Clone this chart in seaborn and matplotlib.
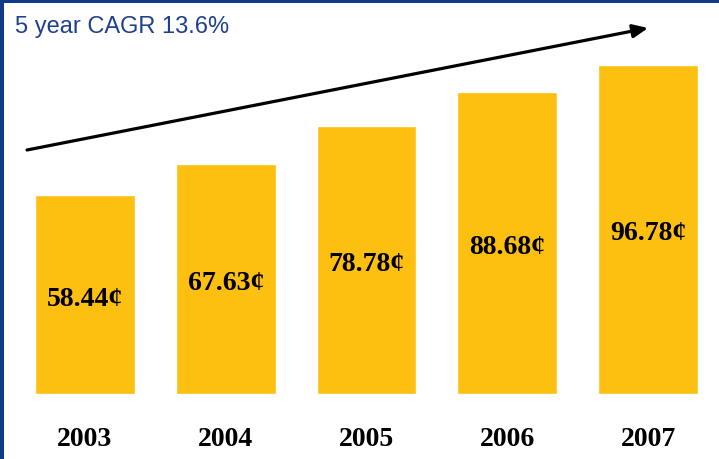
import matplotlib
matplotlib.use("Agg")
import matplotlib.pyplot as plt
import seaborn as sns
import pandas as pd
from matplotlib.patches import Rectangle, FancyArrowPatch

anos = ["2003", "2004", "2005", "2006", "2007"]
valores = [58.44, 67.63, 78.78, 88.68, 96.78]
rotulos = ["58.44¢", "67.63¢", "78.78¢", "88.68¢", "96.78¢"]
titulo = "5 year CAGR 13.6%"

W, H = 719, 459
ouro = "#FDC010"
azul = "#0F3A8A"

sns.set_style("white")
fig = plt.figure(figsize=(W / 100, H / 100), dpi=100)
ax = fig.add_axes([0, 0, 1, 1])

df = pd.DataFrame({"ano": anos, "valor": valores})
sns.barplot(data=df, x="ano", y="valor", color=ouro, saturation=1,
            width=0.71, ax=ax)

# escala: base em y=394px, 3.40 px por unidade
ax.set_ylim(-65 / 3.40, 394 / 3.40)
ax.set_xlim(-85 / 140.75, (W - 85) / 140.75)
ax.axis("off")

for i, (v, r) in enumerate(zip(valores, rotulos)):
    ax.text(i, v / 2 - 4.5 / 3.40, r, ha="center", va="center", fontsize=20,
            fontweight="bold", family="Liberation Serif", color="black")
    ax.text(i, -45 / 3.40, anos[i], ha="center", va="center", fontsize=20,
            fontweight="bold", family="Liberation Serif", color="black")

fig.text(15 / W, 1 - 27 / H, titulo, ha="left", va="center", fontsize=17,
         family="Liberation Sans", color="#1F3F8F")

# seta de tendência
fig.patches.append(FancyArrowPatch(
    (27 / W, 1 - 150 / H), (648 / W, 1 - 28 / H),
    transform=fig.transFigure, arrowstyle="-|>,head_length=3.6,head_width=1.6",
    lw=2.3, color="black", mutation_scale=2.5, shrinkA=0, shrinkB=0))

# bordas azuis (esquerda e topo)
fig.patches.append(Rectangle((0, 0), 4 / W, 1, transform=fig.transFigure,
                             color=azul, lw=0))
fig.patches.append(Rectangle((0, 1 - 2.5 / H), 1, 2.5 / H,
                             transform=fig.transFigure, color=azul, lw=0))

fig.savefig("out.png", dpi=100)
